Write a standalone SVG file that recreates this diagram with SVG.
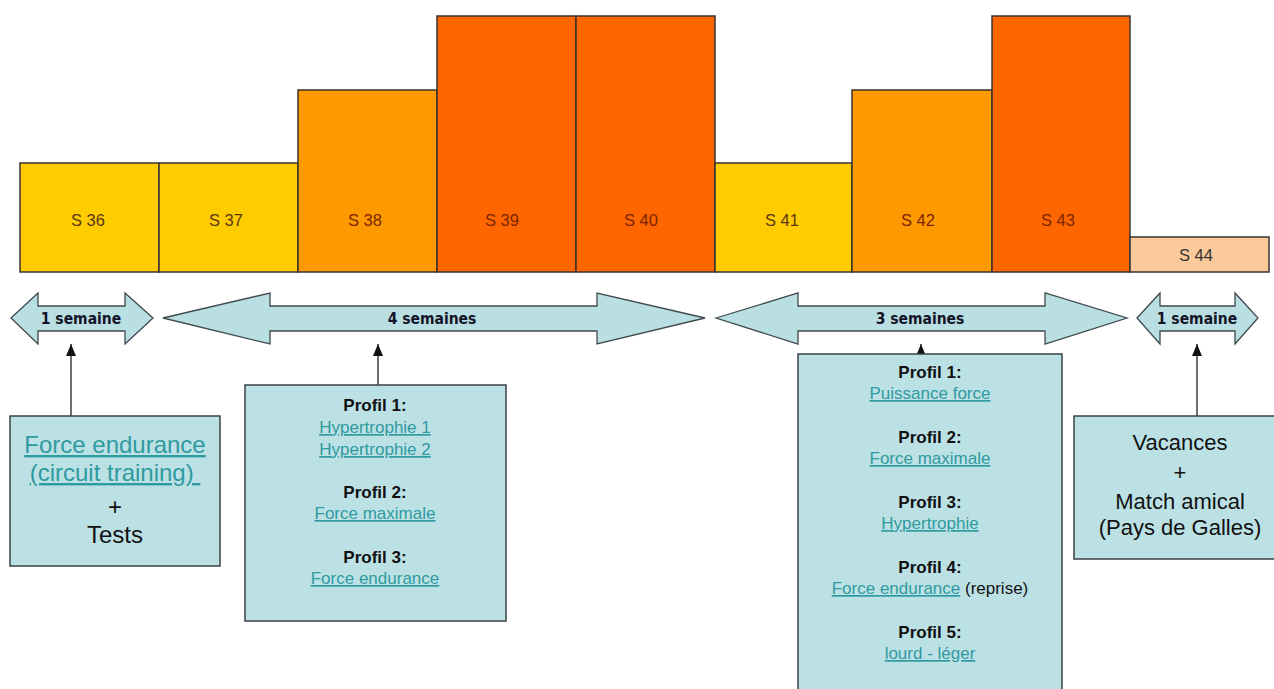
<svg xmlns="http://www.w3.org/2000/svg" width="1274" height="689" viewBox="0 0 1274 689">
<style>
.bar{stroke:#3a3333;stroke-width:1.5}
.y{fill:#FFCC00}.o{fill:#FF9900}.r{fill:#FF6600}.p{fill:#FBC99A}
.bl{font-family:"Liberation Sans",Arial,sans-serif;font-size:16.5px;text-anchor:middle;fill:#5a3512}
.bl2{fill:#7a2500}
.arr{fill:#B9DFE3;stroke:#3f4a4c;stroke-width:1.3}
.al{font-family:"DejaVu Sans Condensed","DejaVu Sans",Verdana,sans-serif;font-stretch:condensed;font-weight:bold;font-size:15.5px;text-anchor:middle;fill:#141428}
.box{fill:#BCE1E5;stroke:#3a4244;stroke-width:1.5}
.t{font-family:"Liberation Sans",Arial,sans-serif;text-anchor:middle;fill:#111}
.t17{font-size:17px}
.t22{font-size:22px}
.t24{font-size:24px}
.b{font-weight:bold;fill:#111}
.lk{fill:#2F9AA0;text-decoration:underline}
.con{stroke:#222;stroke-width:1.3;fill:none}
</style>
<defs>
<marker id="ah" markerUnits="userSpaceOnUse" markerWidth="13" markerHeight="10" refX="12" refY="5" orient="auto" viewBox="0 0 13 10">
<path d="M0,0 L12,5 L0,10 Z" fill="#111"/>
</marker>
</defs>
<rect width="1274" height="689" fill="#fff"/>
<g id="bars">
<g id="s36"><rect class="bar y" x="20" y="163" width="139" height="109"/><text class="bl" x="88" y="226">S 36</text></g>
<g id="s37"><rect class="bar y" x="159" y="163" width="139" height="109"/><text class="bl" x="226" y="226">S 37</text></g>
<g id="s38"><rect class="bar o" x="298" y="90" width="139" height="182"/><text class="bl bl2" x="365" y="226">S 38</text></g>
<g id="s39"><rect class="bar r" x="437" y="16" width="139" height="256"/><text class="bl bl2" x="502" y="226">S 39</text></g>
<g id="s40"><rect class="bar r" x="576" y="16" width="139" height="256"/><text class="bl bl2" x="641" y="226">S 40</text></g>
<g id="s41"><rect class="bar y" x="715" y="163" width="137" height="109"/><text class="bl" x="782" y="226">S 41</text></g>
<g id="s42"><rect class="bar o" x="852" y="90" width="140" height="182"/><text class="bl bl2" x="918" y="226">S 42</text></g>
<g id="s43"><rect class="bar r" x="992" y="16" width="138" height="256"/><text class="bl bl2" x="1058" y="226">S 43</text></g>
<g id="s44"><rect class="bar p" x="1130" y="237" width="139" height="35"/><text class="bl" x="1196" y="261" style="fill:#333">S 44</text></g>
</g>
<g id="arrow1"><path class="arr" d="M11,318 L38,293 L38,306 L125,306 L125,293 L153,318 L125,344 L125,331 L38,331 L38,344 Z"/><text class="al" x="81" y="324">1 semaine</text></g>
<g id="arrow2"><path class="arr" d="M163,318 L270,293 L270,306 L597,306 L597,293 L705,318 L597,344 L597,331 L270,331 L270,344 Z"/><text class="al" x="432" y="324">4 semaines</text></g>
<g id="arrow3"><path class="arr" d="M716,318 L798,293 L798,306 L1045,306 L1045,293 L1127,318 L1045,344 L1045,331 L798,331 L798,344 Z"/><text class="al" x="920" y="324">3 semaines</text></g>
<g id="arrow4"><path class="arr" d="M1137,318 L1160,293 L1160,306 L1235,306 L1235,293 L1258,318 L1235,344 L1235,331 L1160,331 L1160,344 Z"/><text class="al" x="1197" y="324">1 semaine</text></g>
<g id="connectors">
<line class="con" x1="71" y1="416" x2="71" y2="344" marker-end="url(#ah)"/>
<line class="con" x1="378" y1="385" x2="378" y2="344" marker-end="url(#ah)"/>
<line class="con" x1="921" y1="354" x2="921" y2="344" marker-end="url(#ah)"/>
<line class="con" x1="1197" y1="416" x2="1197" y2="344" marker-end="url(#ah)"/>
</g>
<g id="box1"><rect class="box" x="10" y="416" width="210" height="150"/>
<text class="t t24" x="115" y="453"><tspan class="lk">Force endurance</tspan></text>
<text class="t t24" x="115" y="481" xml:space="preserve"><tspan class="lk">(circuit training)&#160;</tspan></text>
<text class="t t24" x="115" y="515">+</text>
<text class="t t24" x="115" y="543">Tests</text>
</g>
<g id="box2"><rect class="box" x="245" y="385" width="261" height="236"/>
<text class="t t17 b" x="375" y="411">Profil 1:</text>
<text class="t t17" x="375" y="433"><tspan class="lk">Hypertrophie 1</tspan></text>
<text class="t t17" x="375" y="455"><tspan class="lk">Hypertrophie 2</tspan></text>
<text class="t t17 b" x="375" y="498">Profil 2:</text>
<text class="t t17" x="375" y="519"><tspan class="lk">Force maximale</tspan></text>
<text class="t t17 b" x="375" y="563">Profil 3:</text>
<text class="t t17" x="375" y="584"><tspan class="lk">Force endurance</tspan></text>
</g>
<g id="box3"><rect class="box" x="798" y="354" width="264" height="345"/>
<text class="t t17 b" x="930" y="378">Profil 1:</text>
<text class="t t17" x="930" y="399"><tspan class="lk">Puissance force</tspan></text>
<text class="t t17 b" x="930" y="443">Profil 2:</text>
<text class="t t17" x="930" y="464"><tspan class="lk">Force maximale</tspan></text>
<text class="t t17 b" x="930" y="508">Profil 3:</text>
<text class="t t17" x="930" y="529"><tspan class="lk">Hypertrophie</tspan></text>
<text class="t t17 b" x="930" y="573">Profil 4:</text>
<text class="t t17" x="930" y="594"><tspan class="lk">Force endurance</tspan><tspan> (reprise)</tspan></text>
<text class="t t17 b" x="930" y="638">Profil 5:</text>
<text class="t t17" x="930" y="659"><tspan class="lk">lourd - léger</tspan></text>
</g>
<g id="box4"><rect class="box" x="1074" y="416" width="230" height="143"/>
<text class="t t22" x="1180" y="450">Vacances</text>
<text class="t t22" x="1180" y="480">+</text>
<text class="t t22" x="1180" y="509">Match amical</text>
<text class="t t22" x="1180" y="535">(Pays de Galles)</text>
</g>
</svg>
